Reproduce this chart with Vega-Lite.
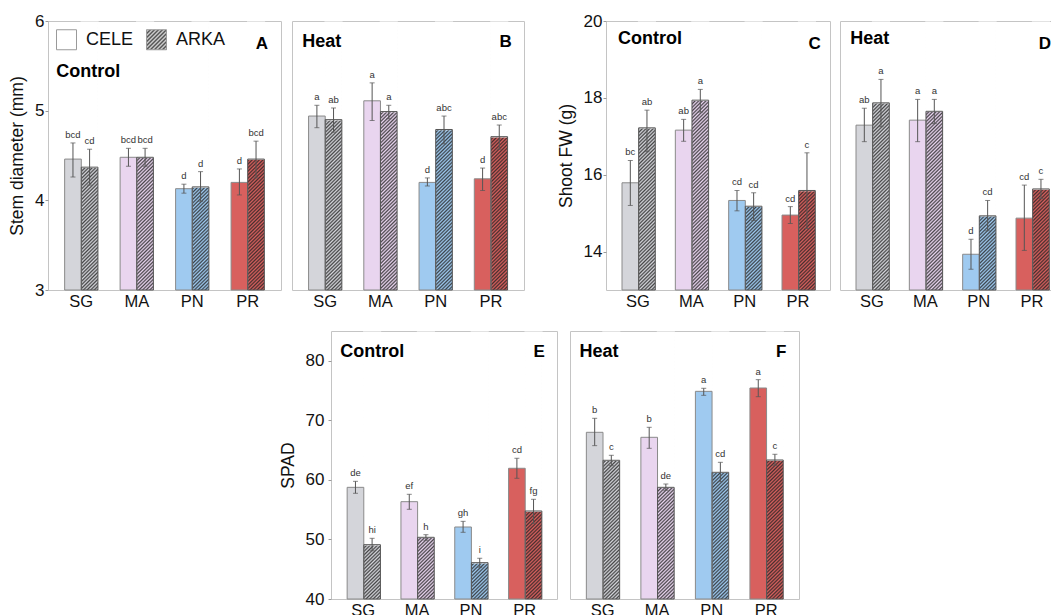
{
"$schema": "https://vega.github.io/schema/vega-lite/v6.json",
"padding": {"left": 8, "top": 11, "right": 0, "bottom": 0},
"params": [{"name": "hatch", "value": {"gradient": "linear", "x1": 0, "y1": 0, "x2": 0.065, "y2": 1.057, "stops": [
{"offset":0,"color":"#222c"},{"offset":0.00625,"color":"#2220"},{"offset":0.0125,"color":"#222c"},{"offset":0.01875,"color":"#2220"},{"offset":0.025,"color":"#222c"},{"offset":0.03125,"color":"#2220"},{"offset":0.0375,"color":"#222c"},{"offset":0.04375,"color":"#2220"},{"offset":0.05,"color":"#222c"},{"offset":0.05625,"color":"#2220"},{"offset":0.0625,"color":"#222c"},{"offset":0.06875,"color":"#2220"},{"offset":0.075,"color":"#222c"},{"offset":0.08125,"color":"#2220"},{"offset":0.0875,"color":"#222c"},{"offset":0.09375,"color":"#2220"},
{"offset":0.1,"color":"#222c"},{"offset":0.10625,"color":"#2220"},{"offset":0.1125,"color":"#222c"},{"offset":0.11875,"color":"#2220"},{"offset":0.125,"color":"#222c"},{"offset":0.13125,"color":"#2220"},{"offset":0.1375,"color":"#222c"},{"offset":0.14375,"color":"#2220"},{"offset":0.15,"color":"#222c"},{"offset":0.15625,"color":"#2220"},{"offset":0.1625,"color":"#222c"},{"offset":0.16875,"color":"#2220"},{"offset":0.175,"color":"#222c"},{"offset":0.18125,"color":"#2220"},{"offset":0.1875,"color":"#222c"},{"offset":0.19375,"color":"#2220"},
{"offset":0.2,"color":"#222c"},{"offset":0.20625,"color":"#2220"},{"offset":0.2125,"color":"#222c"},{"offset":0.21875,"color":"#2220"},{"offset":0.225,"color":"#222c"},{"offset":0.23125,"color":"#2220"},{"offset":0.2375,"color":"#222c"},{"offset":0.24375,"color":"#2220"},{"offset":0.25,"color":"#222c"},{"offset":0.25625,"color":"#2220"},{"offset":0.2625,"color":"#222c"},{"offset":0.26875,"color":"#2220"},{"offset":0.275,"color":"#222c"},{"offset":0.28125,"color":"#2220"},{"offset":0.2875,"color":"#222c"},{"offset":0.29375,"color":"#2220"},
{"offset":0.3,"color":"#222c"},{"offset":0.30625,"color":"#2220"},{"offset":0.3125,"color":"#222c"},{"offset":0.31875,"color":"#2220"},{"offset":0.325,"color":"#222c"},{"offset":0.33125,"color":"#2220"},{"offset":0.3375,"color":"#222c"},{"offset":0.34375,"color":"#2220"},{"offset":0.35,"color":"#222c"},{"offset":0.35625,"color":"#2220"},{"offset":0.3625,"color":"#222c"},{"offset":0.36875,"color":"#2220"},{"offset":0.375,"color":"#222c"},{"offset":0.38125,"color":"#2220"},{"offset":0.3875,"color":"#222c"},{"offset":0.39375,"color":"#2220"},
{"offset":0.4,"color":"#222c"},{"offset":0.40625,"color":"#2220"},{"offset":0.4125,"color":"#222c"},{"offset":0.41875,"color":"#2220"},{"offset":0.425,"color":"#222c"},{"offset":0.43125,"color":"#2220"},{"offset":0.4375,"color":"#222c"},{"offset":0.44375,"color":"#2220"},{"offset":0.45,"color":"#222c"},{"offset":0.45625,"color":"#2220"},{"offset":0.4625,"color":"#222c"},{"offset":0.46875,"color":"#2220"},{"offset":0.475,"color":"#222c"},{"offset":0.48125,"color":"#2220"},{"offset":0.4875,"color":"#222c"},{"offset":0.49375,"color":"#2220"},
{"offset":0.5,"color":"#222c"},{"offset":0.50625,"color":"#2220"},{"offset":0.5125,"color":"#222c"},{"offset":0.51875,"color":"#2220"},{"offset":0.525,"color":"#222c"},{"offset":0.53125,"color":"#2220"},{"offset":0.5375,"color":"#222c"},{"offset":0.54375,"color":"#2220"},{"offset":0.55,"color":"#222c"},{"offset":0.55625,"color":"#2220"},{"offset":0.5625,"color":"#222c"},{"offset":0.56875,"color":"#2220"},{"offset":0.575,"color":"#222c"},{"offset":0.58125,"color":"#2220"},{"offset":0.5875,"color":"#222c"},{"offset":0.59375,"color":"#2220"},
{"offset":0.6,"color":"#222c"},{"offset":0.60625,"color":"#2220"},{"offset":0.6125,"color":"#222c"},{"offset":0.61875,"color":"#2220"},{"offset":0.625,"color":"#222c"},{"offset":0.63125,"color":"#2220"},{"offset":0.6375,"color":"#222c"},{"offset":0.64375,"color":"#2220"},{"offset":0.65,"color":"#222c"},{"offset":0.65625,"color":"#2220"},{"offset":0.6625,"color":"#222c"},{"offset":0.66875,"color":"#2220"},{"offset":0.675,"color":"#222c"},{"offset":0.68125,"color":"#2220"},{"offset":0.6875,"color":"#222c"},{"offset":0.69375,"color":"#2220"},
{"offset":0.7,"color":"#222c"},{"offset":0.70625,"color":"#2220"},{"offset":0.7125,"color":"#222c"},{"offset":0.71875,"color":"#2220"},{"offset":0.725,"color":"#222c"},{"offset":0.73125,"color":"#2220"},{"offset":0.7375,"color":"#222c"},{"offset":0.74375,"color":"#2220"},{"offset":0.75,"color":"#222c"},{"offset":0.75625,"color":"#2220"},{"offset":0.7625,"color":"#222c"},{"offset":0.76875,"color":"#2220"},{"offset":0.775,"color":"#222c"},{"offset":0.78125,"color":"#2220"},{"offset":0.7875,"color":"#222c"},{"offset":0.79375,"color":"#2220"},
{"offset":0.8,"color":"#222c"},{"offset":0.80625,"color":"#2220"},{"offset":0.8125,"color":"#222c"},{"offset":0.81875,"color":"#2220"},{"offset":0.825,"color":"#222c"},{"offset":0.83125,"color":"#2220"},{"offset":0.8375,"color":"#222c"},{"offset":0.84375,"color":"#2220"},{"offset":0.85,"color":"#222c"},{"offset":0.85625,"color":"#2220"},{"offset":0.8625,"color":"#222c"},{"offset":0.86875,"color":"#2220"},{"offset":0.875,"color":"#222c"},{"offset":0.88125,"color":"#2220"},{"offset":0.8875,"color":"#222c"},{"offset":0.89375,"color":"#2220"},
{"offset":0.9,"color":"#222c"},{"offset":0.90625,"color":"#2220"},{"offset":0.9125,"color":"#222c"},{"offset":0.91875,"color":"#2220"},{"offset":0.925,"color":"#222c"},{"offset":0.93125,"color":"#2220"},{"offset":0.9375,"color":"#222c"},{"offset":0.94375,"color":"#2220"},{"offset":0.95,"color":"#222c"},{"offset":0.95625,"color":"#2220"},{"offset":0.9625,"color":"#222c"},{"offset":0.96875,"color":"#2220"},{"offset":0.975,"color":"#222c"},{"offset":0.98125,"color":"#2220"},{"offset":0.9875,"color":"#222c"},{"offset":0.99375,"color":"#2220"},
{"offset":1,"color":"#222c"}]}},
{"name": "hatchSq", "value": {"gradient": "linear", "x1": 0, "y1": 0, "x2": 1, "y2": 1, "stops": [
{"offset":0,"color":"#444"},{"offset":0.05,"color":"#ddd"},{"offset":0.1,"color":"#444"},{"offset":0.15,"color":"#ddd"},{"offset":0.2,"color":"#444"},{"offset":0.25,"color":"#ddd"},{"offset":0.3,"color":"#444"},{"offset":0.35,"color":"#ddd"},{"offset":0.4,"color":"#444"},{"offset":0.45,"color":"#ddd"},{"offset":0.5,"color":"#444"},{"offset":0.55,"color":"#ddd"},{"offset":0.6,"color":"#444"},{"offset":0.65,"color":"#ddd"},{"offset":0.7,"color":"#444"},{"offset":0.75,"color":"#ddd"},{"offset":0.8,"color":"#444"},{"offset":0.85,"color":"#ddd"},{"offset":0.9,"color":"#444"},{"offset":0.95,"color":"#ddd"},{"offset":1,"color":"#444"}]}}],
"datasets": {
"stem": [
{"t":"Control","g":"SG","c":"CELE","m":4.46,"lo":4.26,"hi":4.64,"l":"bcd"},
{"t":"Control","g":"SG","c":"ARKA","m":4.37,"lo":4.17,"hi":4.57,"l":"cd"},
{"t":"Control","g":"MA","c":"CELE","m":4.48,"lo":4.38,"hi":4.58,"l":"bcd"},
{"t":"Control","g":"MA","c":"ARKA","m":4.48,"lo":4.38,"hi":4.58,"l":"bcd"},
{"t":"Control","g":"PN","c":"CELE","m":4.13,"lo":4.08,"hi":4.18,"l":"d"},
{"t":"Control","g":"PN","c":"ARKA","m":4.15,"lo":3.99,"hi":4.32,"l":"d"},
{"t":"Control","g":"PR","c":"CELE","m":4.2,"lo":4.06,"hi":4.35,"l":"d"},
{"t":"Control","g":"PR","c":"ARKA","m":4.46,"lo":4.25,"hi":4.66,"l":"bcd"},
{"t":"Heat","g":"SG","c":"CELE","m":4.94,"lo":4.81,"hi":5.06,"l":"a"},
{"t":"Heat","g":"SG","c":"ARKA","m":4.9,"lo":4.76,"hi":5.03,"l":"ab"},
{"t":"Heat","g":"MA","c":"CELE","m":5.11,"lo":4.89,"hi":5.31,"l":"a"},
{"t":"Heat","g":"MA","c":"ARKA","m":4.99,"lo":4.91,"hi":5.06,"l":"a"},
{"t":"Heat","g":"PN","c":"CELE","m":4.2,"lo":4.16,"hi":4.25,"l":"d"},
{"t":"Heat","g":"PN","c":"ARKA","m":4.79,"lo":4.63,"hi":4.94,"l":"abc"},
{"t":"Heat","g":"PR","c":"CELE","m":4.24,"lo":4.11,"hi":4.36,"l":"d"},
{"t":"Heat","g":"PR","c":"ARKA","m":4.71,"lo":4.57,"hi":4.84,"l":"abc"}],
"fw": [
{"t":"Control","g":"SG","c":"CELE","m":15.79,"lo":15.2,"hi":16.37,"l":"bc"},
{"t":"Control","g":"SG","c":"ARKA","m":17.22,"lo":16.6,"hi":17.68,"l":"ab"},
{"t":"Control","g":"MA","c":"CELE","m":17.16,"lo":16.87,"hi":17.44,"l":"ab"},
{"t":"Control","g":"MA","c":"ARKA","m":17.94,"lo":17.63,"hi":18.22,"l":"a"},
{"t":"Control","g":"PN","c":"CELE","m":15.33,"lo":15.06,"hi":15.59,"l":"cd"},
{"t":"Control","g":"PN","c":"ARKA","m":15.18,"lo":14.81,"hi":15.53,"l":"cd"},
{"t":"Control","g":"PR","c":"CELE","m":14.95,"lo":14.73,"hi":15.17,"l":"cd"},
{"t":"Control","g":"PR","c":"ARKA","m":15.59,"lo":14.6,"hi":16.57,"l":"c"},
{"t":"Heat","g":"SG","c":"CELE","m":17.29,"lo":16.86,"hi":17.73,"l":"ab"},
{"t":"Heat","g":"SG","c":"ARKA","m":17.87,"lo":17.25,"hi":18.48,"l":"a"},
{"t":"Heat","g":"MA","c":"CELE","m":17.42,"lo":16.86,"hi":17.96,"l":"a"},
{"t":"Heat","g":"MA","c":"ARKA","m":17.65,"lo":17.33,"hi":17.96,"l":"a"},
{"t":"Heat","g":"PN","c":"CELE","m":13.93,"lo":13.54,"hi":14.32,"l":"d"},
{"t":"Heat","g":"PN","c":"ARKA","m":14.93,"lo":14.54,"hi":15.33,"l":"cd"},
{"t":"Heat","g":"PR","c":"CELE","m":14.87,"lo":14.03,"hi":15.73,"l":"cd"},
{"t":"Heat","g":"PR","c":"ARKA","m":15.63,"lo":15.38,"hi":15.88,"l":"c"}],
"spad": [
{"t":"Control","g":"SG","c":"CELE","m":58.75,"lo":57.75,"hi":59.76,"l":"de"},
{"t":"Control","g":"SG","c":"ARKA","m":49.12,"lo":48.1,"hi":50.19,"l":"hi"},
{"t":"Control","g":"MA","c":"CELE","m":56.34,"lo":55.06,"hi":57.58,"l":"ef"},
{"t":"Control","g":"MA","c":"ARKA","m":50.36,"lo":49.86,"hi":50.8,"l":"h"},
{"t":"Control","g":"PN","c":"CELE","m":52.09,"lo":51.2,"hi":53.04,"l":"gh"},
{"t":"Control","g":"PN","c":"ARKA","m":46.1,"lo":45.33,"hi":46.84,"l":"i"},
{"t":"Control","g":"PR","c":"CELE","m":61.95,"lo":60.27,"hi":63.63,"l":"cd"},
{"t":"Control","g":"PR","c":"ARKA","m":54.78,"lo":52.71,"hi":56.74,"l":"fg"},
{"t":"Heat","g":"SG","c":"CELE","m":67.99,"lo":65.75,"hi":70.34,"l":"b"},
{"t":"Heat","g":"SG","c":"ARKA","m":63.29,"lo":62.39,"hi":64.13,"l":"c"},
{"t":"Heat","g":"MA","c":"CELE","m":67.15,"lo":65.3,"hi":68.83,"l":"b"},
{"t":"Heat","g":"MA","c":"ARKA","m":58.75,"lo":58.25,"hi":59.31,"l":"de"},
{"t":"Heat","g":"PN","c":"CELE","m":74.87,"lo":74.2,"hi":75.38,"l":"a"},
{"t":"Heat","g":"PN","c":"ARKA","m":61.27,"lo":59.7,"hi":62.95,"l":"cd"},
{"t":"Heat","g":"PR","c":"CELE","m":75.43,"lo":73.97,"hi":76.83,"l":"a"},
{"t":"Heat","g":"PR","c":"ARKA","m":63.34,"lo":62.45,"hi":64.3,"l":"c"}]
},
"config": {
"font": "Liberation Sans",
"view": {"stroke": "#c4c4c4", "strokeWidth": 1},
"axis": {"grid": false, "labelColor": "#111", "titleColor": "#111", "titleFontWeight": "normal"},
"axisX": {"ticks": false, "domain": false, "labelAngle": 0, "labelFontSize": 16.5, "labelPadding": 3},
"axisY": {"domain": false, "tickSize": 3, "tickColor": "#9a9a9a", "labelFontSize": 17, "labelPadding": 1, "titleFontSize": 17.5, "titlePadding": 8}
},
"resolve": {"scale": {"fill": "independent"}, "legend": {"fill": "independent"}},
"spacing": 20,
"vconcat": [
{"resolve": {"scale": {"fill": "independent"}, "legend": {"fill": "independent"}},
 "spacing": 31,
 "hconcat": [
 {"resolve": {"scale": {"fill": "independent"}, "legend": {"fill": "independent"}},
  "spacing": 9,
  "hconcat": [
  {"width": 233, "height": 269, "data": {"name": "stem"},
   "transform": [{"filter": "datum.t == 'Control'"}],
   "encoding": {"x": {"field": "g", "type": "nominal", "sort": ["SG","MA","PN","PR"], "title": null, "scale": {"paddingInner": 0.4, "paddingOuter": 0.3}},
     "xOffset": {"field": "c", "type": "nominal", "sort": ["CELE","ARKA"], "scale": {"paddingInner": 0, "paddingOuter": 0}}},
   "layer": [
    {"transform": [{"filter": "datum.c == 'ARKA'"}], "mark": {"type": "bar", "stroke": null},
     "encoding": {"y": {"field": "m", "type": "quantitative", "scale": {"domain": [3,6], "nice": false, "zero": false}, "axis": {"values": [3,4,5,6], "format": "d"}, "title": "Stem diameter (mm)"}, "y2": {"datum": 3},
       "color": {"field": "g", "type": "nominal", "scale": {"domain": ["SG","MA","PN","PR"], "range": ["#d4d5da","#e9d5ef","#9fcaf0","#d8605e"]}, "legend": null}}},
    {"transform": [{"filter": "datum.c == 'ARKA'"}], "mark": {"type": "bar", "fill": {"expr": "hatch"}, "stroke": null}, "encoding": {"y": {"datum": 5.985}, "y2": {"datum": 3}}},
    {"transform": [{"filter": "datum.c == 'ARKA'"}], "mark": {"type": "bar", "fill": "#ffffff", "stroke": "#ffffff", "strokeWidth": 1.5}, "encoding": {"y": {"field": "m", "type": "quantitative"}, "y2": {"datum": 5.985}}},
    {"transform": [{"filter": "datum.c == 'CELE'"}], "mark": {"type": "bar", "stroke": "#8a8a8a", "strokeWidth": 1}, "encoding": {"y": {"field": "m", "type": "quantitative"}, "y2": {"datum": 3}, "color": {"field": "g", "type": "nominal", "legend": null}}},
    {"transform": [{"filter": "datum.c == 'ARKA'"}], "mark": {"type": "bar", "filled": false, "stroke": "#555555", "strokeWidth": 1}, "encoding": {"y": {"field": "m", "type": "quantitative"}, "y2": {"datum": 3}}},
    {"mark": {"type": "rule", "color": "#555555"}, "encoding": {"y": {"field": "lo", "type": "quantitative"}, "y2": {"field": "hi"}}},
    {"mark": {"type": "tick", "color": "#555555", "size": 5, "thickness": 1}, "encoding": {"y": {"field": "lo", "type": "quantitative"}}},
    {"mark": {"type": "tick", "color": "#555555", "size": 5, "thickness": 1}, "encoding": {"y": {"field": "hi", "type": "quantitative"}}},
    {"mark": {"type": "text", "fontSize": 9.5, "color": "#333333", "baseline": "alphabetic", "dy": -5}, "encoding": {"y": {"field": "hi", "type": "quantitative"}, "text": {"field": "l"}}},
    {"data": {"values": [{}]}, "mark": {"type": "text", "text": "Control", "fontSize": 18, "fontWeight": "bold", "align": "left", "baseline": "alphabetic", "dx": -16.7, "color": "#000000"}, "encoding": {"x": {"datum": "SG"}, "xOffset": {"datum": "CELE"}, "y": {"datum": 5.376}}},
    {"data": {"values": [{}]}, "mark": {"type": "text", "text": "A", "fontSize": 17, "fontWeight": "bold", "align": "right", "baseline": "alphabetic", "dx": 12, "color": "#000000"}, "encoding": {"x": {"datum": "PR"}, "xOffset": {"datum": "ARKA"}, "y": {"datum": 5.684}}},
    {"transform": [{"filter": "false"}], "mark": {"type": "square", "stroke": "#9a9a9a", "strokeWidth": 1, "opacity": 1},
     "encoding": {"y": {"field": "m", "type": "quantitative"},
       "fill": {"field": "c", "type": "nominal", "scale": {"domain": ["CELE","ARKA"], "range": ["#ffffff", {"expr": "hatchSq"}]},
       "legend": {"title": null, "orient": "top-left", "direction": "horizontal", "offset": 8, "padding": 0, "symbolType": "square", "symbolSize": 400, "symbolStrokeColor": "#9a9a9a", "symbolStrokeWidth": 1, "labelFontSize": 18, "labelColor": "#111111", "labelOffset": 9, "columnPadding": 10}}}}
   ]},
  {"width": 232, "height": 269, "data": {"name": "stem"},
   "transform": [{"filter": "datum.t == 'Heat'"}],
   "encoding": {"x": {"field": "g", "type": "nominal", "sort": ["SG","MA","PN","PR"], "title": null, "scale": {"paddingInner": 0.4, "paddingOuter": 0.3}},
     "xOffset": {"field": "c", "type": "nominal", "sort": ["CELE","ARKA"], "scale": {"paddingInner": 0, "paddingOuter": 0}}},
   "layer": [
    {"transform": [{"filter": "datum.c == 'ARKA'"}], "mark": {"type": "bar", "stroke": null},
     "encoding": {"y": {"field": "m", "type": "quantitative", "scale": {"domain": [3,6], "nice": false, "zero": false}, "axis": null}, "y2": {"datum": 3},
       "color": {"field": "g", "type": "nominal", "scale": {"domain": ["SG","MA","PN","PR"], "range": ["#d4d5da","#e9d5ef","#9fcaf0","#d8605e"]}, "legend": null}}},
    {"transform": [{"filter": "datum.c == 'ARKA'"}], "mark": {"type": "bar", "fill": {"expr": "hatch"}, "stroke": null}, "encoding": {"y": {"datum": 5.985, "axis": null}, "y2": {"datum": 3}}},
    {"transform": [{"filter": "datum.c == 'ARKA'"}], "mark": {"type": "bar", "fill": "#ffffff", "stroke": "#ffffff", "strokeWidth": 1.5}, "encoding": {"y": {"field": "m", "type": "quantitative", "axis": null}, "y2": {"datum": 5.985}}},
    {"transform": [{"filter": "datum.c == 'CELE'"}], "mark": {"type": "bar", "stroke": "#8a8a8a", "strokeWidth": 1}, "encoding": {"y": {"field": "m", "type": "quantitative", "axis": null}, "y2": {"datum": 3}, "color": {"field": "g", "type": "nominal", "legend": null}}},
    {"transform": [{"filter": "datum.c == 'ARKA'"}], "mark": {"type": "bar", "filled": false, "stroke": "#555555", "strokeWidth": 1}, "encoding": {"y": {"field": "m", "type": "quantitative", "axis": null}, "y2": {"datum": 3}}},
    {"mark": {"type": "rule", "color": "#555555"}, "encoding": {"y": {"field": "lo", "type": "quantitative", "axis": null}, "y2": {"field": "hi"}}},
    {"mark": {"type": "tick", "color": "#555555", "size": 5, "thickness": 1}, "encoding": {"y": {"field": "lo", "type": "quantitative", "axis": null}}},
    {"mark": {"type": "tick", "color": "#555555", "size": 5, "thickness": 1}, "encoding": {"y": {"field": "hi", "type": "quantitative", "axis": null}}},
    {"mark": {"type": "text", "fontSize": 9.5, "color": "#333333", "baseline": "alphabetic", "dy": -5}, "encoding": {"y": {"field": "hi", "type": "quantitative", "axis": null}, "text": {"field": "l"}}},
    {"data": {"values": [{}]}, "mark": {"type": "text", "text": "Heat", "fontSize": 18, "fontWeight": "bold", "align": "left", "baseline": "alphabetic", "dx": -14.6, "color": "#000000"}, "encoding": {"x": {"datum": "SG"}, "xOffset": {"datum": "CELE"}, "y": {"datum": 5.713, "axis": null}}},
    {"data": {"values": [{}]}, "mark": {"type": "text", "text": "B", "fontSize": 17, "fontWeight": "bold", "align": "right", "baseline": "alphabetic", "dx": 12.6, "color": "#000000"}, "encoding": {"x": {"datum": "PR"}, "xOffset": {"datum": "ARKA"}, "y": {"datum": 5.713, "axis": null}}}
   ]}
  ]},
 {"spacing": 8,
  "hconcat": [
  {"width": 224, "height": 269, "data": {"name": "fw"},
   "transform": [{"filter": "datum.t == 'Control'"}],
   "encoding": {"x": {"field": "g", "type": "nominal", "sort": ["SG","MA","PN","PR"], "title": null, "scale": {"paddingInner": 0.4, "paddingOuter": 0.3}},
     "xOffset": {"field": "c", "type": "nominal", "sort": ["CELE","ARKA"], "scale": {"paddingInner": 0, "paddingOuter": 0}}},
   "layer": [
    {"transform": [{"filter": "datum.c == 'ARKA'"}], "mark": {"type": "bar", "stroke": null},
     "encoding": {"y": {"field": "m", "type": "quantitative", "scale": {"domain": [13,20], "nice": false, "zero": false}, "axis": {"values": [14,16,18,20]}, "title": "Shoot FW (g)"}, "y2": {"datum": 13},
       "color": {"field": "g", "type": "nominal", "scale": {"domain": ["SG","MA","PN","PR"], "range": ["#d4d5da","#e9d5ef","#9fcaf0","#d8605e"]}, "legend": null}}},
    {"transform": [{"filter": "datum.c == 'ARKA'"}], "mark": {"type": "bar", "fill": {"expr": "hatch"}, "stroke": null}, "encoding": {"y": {"datum": 19.965}, "y2": {"datum": 13}}},
    {"transform": [{"filter": "datum.c == 'ARKA'"}], "mark": {"type": "bar", "fill": "#ffffff", "stroke": "#ffffff", "strokeWidth": 1.5}, "encoding": {"y": {"field": "m", "type": "quantitative"}, "y2": {"datum": 19.965}}},
    {"transform": [{"filter": "datum.c == 'CELE'"}], "mark": {"type": "bar", "stroke": "#8a8a8a", "strokeWidth": 1}, "encoding": {"y": {"field": "m", "type": "quantitative"}, "y2": {"datum": 13}, "color": {"field": "g", "type": "nominal", "legend": null}}},
    {"transform": [{"filter": "datum.c == 'ARKA'"}], "mark": {"type": "bar", "filled": false, "stroke": "#555555", "strokeWidth": 1}, "encoding": {"y": {"field": "m", "type": "quantitative"}, "y2": {"datum": 13}}},
    {"mark": {"type": "rule", "color": "#555555"}, "encoding": {"y": {"field": "lo", "type": "quantitative"}, "y2": {"field": "hi"}}},
    {"mark": {"type": "tick", "color": "#555555", "size": 5, "thickness": 1}, "encoding": {"y": {"field": "lo", "type": "quantitative"}}},
    {"mark": {"type": "tick", "color": "#555555", "size": 5, "thickness": 1}, "encoding": {"y": {"field": "hi", "type": "quantitative"}}},
    {"mark": {"type": "text", "fontSize": 9.5, "color": "#333333", "baseline": "alphabetic", "dy": -5}, "encoding": {"y": {"field": "hi", "type": "quantitative"}, "text": {"field": "l"}}},
    {"data": {"values": [{}]}, "mark": {"type": "text", "text": "Control", "fontSize": 18, "fontWeight": "bold", "align": "left", "baseline": "alphabetic", "dx": -12.3, "color": "#000000"}, "encoding": {"x": {"datum": "SG"}, "xOffset": {"datum": "CELE"}, "y": {"datum": 19.394}}},
    {"data": {"values": [{}]}, "mark": {"type": "text", "text": "C", "fontSize": 17, "fontWeight": "bold", "align": "right", "baseline": "alphabetic", "dx": 13.7, "color": "#000000"}, "encoding": {"x": {"datum": "PR"}, "xOffset": {"datum": "ARKA"}, "y": {"datum": 19.264}}}
   ]},
  {"width": 224, "height": 269, "data": {"name": "fw"},
   "transform": [{"filter": "datum.t == 'Heat'"}],
   "encoding": {"x": {"field": "g", "type": "nominal", "sort": ["SG","MA","PN","PR"], "title": null, "scale": {"paddingInner": 0.4, "paddingOuter": 0.3}},
     "xOffset": {"field": "c", "type": "nominal", "sort": ["CELE","ARKA"], "scale": {"paddingInner": 0, "paddingOuter": 0}}},
   "layer": [
    {"transform": [{"filter": "datum.c == 'ARKA'"}], "mark": {"type": "bar", "stroke": null},
     "encoding": {"y": {"field": "m", "type": "quantitative", "scale": {"domain": [13,20], "nice": false, "zero": false}, "axis": null}, "y2": {"datum": 13},
       "color": {"field": "g", "type": "nominal", "scale": {"domain": ["SG","MA","PN","PR"], "range": ["#d4d5da","#e9d5ef","#9fcaf0","#d8605e"]}, "legend": null}}},
    {"transform": [{"filter": "datum.c == 'ARKA'"}], "mark": {"type": "bar", "fill": {"expr": "hatch"}, "stroke": null}, "encoding": {"y": {"datum": 19.965, "axis": null}, "y2": {"datum": 13}}},
    {"transform": [{"filter": "datum.c == 'ARKA'"}], "mark": {"type": "bar", "fill": "#ffffff", "stroke": "#ffffff", "strokeWidth": 1.5}, "encoding": {"y": {"field": "m", "type": "quantitative", "axis": null}, "y2": {"datum": 19.965}}},
    {"transform": [{"filter": "datum.c == 'CELE'"}], "mark": {"type": "bar", "stroke": "#8a8a8a", "strokeWidth": 1}, "encoding": {"y": {"field": "m", "type": "quantitative", "axis": null}, "y2": {"datum": 13}, "color": {"field": "g", "type": "nominal", "legend": null}}},
    {"transform": [{"filter": "datum.c == 'ARKA'"}], "mark": {"type": "bar", "filled": false, "stroke": "#555555", "strokeWidth": 1}, "encoding": {"y": {"field": "m", "type": "quantitative", "axis": null}, "y2": {"datum": 13}}},
    {"mark": {"type": "rule", "color": "#555555"}, "encoding": {"y": {"field": "lo", "type": "quantitative", "axis": null}, "y2": {"field": "hi"}}},
    {"mark": {"type": "tick", "color": "#555555", "size": 5, "thickness": 1}, "encoding": {"y": {"field": "lo", "type": "quantitative", "axis": null}}},
    {"mark": {"type": "tick", "color": "#555555", "size": 5, "thickness": 1}, "encoding": {"y": {"field": "hi", "type": "quantitative", "axis": null}}},
    {"mark": {"type": "text", "fontSize": 9.5, "color": "#333333", "baseline": "alphabetic", "dy": -5}, "encoding": {"y": {"field": "hi", "type": "quantitative", "axis": null}, "text": {"field": "l"}}},
    {"data": {"values": [{}]}, "mark": {"type": "text", "text": "Heat", "fontSize": 18, "fontWeight": "bold", "align": "left", "baseline": "alphabetic", "dx": -14, "color": "#000000"}, "encoding": {"x": {"datum": "SG"}, "xOffset": {"datum": "CELE"}, "y": {"datum": 19.394, "axis": null}}},
    {"data": {"values": [{}]}, "mark": {"type": "text", "text": "D", "fontSize": 17, "fontWeight": "bold", "align": "right", "baseline": "alphabetic", "dx": 10, "color": "#000000"}, "encoding": {"x": {"datum": "PR"}, "xOffset": {"datum": "ARKA"}, "y": {"datum": 19.264, "axis": null}}}
   ]}
  ]}
 ]},
{"spacing": 0,
 "hconcat": [
  {"width": 230, "height": 10, "data": {"values": []}, "mark": "point", "view": {"stroke": null}},
  {"spacing": 11,
   "hconcat": [
   {"width": 226, "height": 268, "data": {"name": "spad"},
    "transform": [{"filter": "datum.t == 'Control'"}],
    "encoding": {"x": {"field": "g", "type": "nominal", "sort": ["SG","MA","PN","PR"], "title": null, "scale": {"paddingInner": 0.4, "paddingOuter": 0.3}},
      "xOffset": {"field": "c", "type": "nominal", "sort": ["CELE","ARKA"], "scale": {"paddingInner": 0, "paddingOuter": 0}}},
    "layer": [
     {"transform": [{"filter": "datum.c == 'ARKA'"}], "mark": {"type": "bar", "stroke": null},
      "encoding": {"y": {"field": "m", "type": "quantitative", "scale": {"domain": [40,85], "nice": false, "zero": false}, "axis": {"values": [40,50,60,70,80], "labelPadding": 4}, "title": "SPAD"}, "y2": {"datum": 40},
        "color": {"field": "g", "type": "nominal", "scale": {"domain": ["SG","MA","PN","PR"], "range": ["#d4d5da","#e9d5ef","#9fcaf0","#d8605e"]}, "legend": null}}},
     {"transform": [{"filter": "datum.c == 'ARKA'"}], "mark": {"type": "bar", "fill": {"expr": "hatch"}, "stroke": null}, "encoding": {"y": {"datum": 84.78}, "y2": {"datum": 40}}},
     {"transform": [{"filter": "datum.c == 'ARKA'"}], "mark": {"type": "bar", "fill": "#ffffff", "stroke": "#ffffff", "strokeWidth": 1.5}, "encoding": {"y": {"field": "m", "type": "quantitative"}, "y2": {"datum": 84.78}}},
     {"transform": [{"filter": "datum.c == 'CELE'"}], "mark": {"type": "bar", "stroke": "#8a8a8a", "strokeWidth": 1}, "encoding": {"y": {"field": "m", "type": "quantitative"}, "y2": {"datum": 40}, "color": {"field": "g", "type": "nominal", "legend": null}}},
     {"transform": [{"filter": "datum.c == 'ARKA'"}], "mark": {"type": "bar", "filled": false, "stroke": "#555555", "strokeWidth": 1}, "encoding": {"y": {"field": "m", "type": "quantitative"}, "y2": {"datum": 40}}},
     {"mark": {"type": "rule", "color": "#555555"}, "encoding": {"y": {"field": "lo", "type": "quantitative"}, "y2": {"field": "hi"}}},
     {"mark": {"type": "tick", "color": "#555555", "size": 5, "thickness": 1}, "encoding": {"y": {"field": "lo", "type": "quantitative"}}},
     {"mark": {"type": "tick", "color": "#555555", "size": 5, "thickness": 1}, "encoding": {"y": {"field": "hi", "type": "quantitative"}}},
     {"mark": {"type": "text", "fontSize": 9.5, "color": "#333333", "baseline": "alphabetic", "dy": -5}, "encoding": {"y": {"field": "hi", "type": "quantitative"}, "text": {"field": "l"}}},
     {"data": {"values": [{}]}, "mark": {"type": "text", "text": "Control", "fontSize": 18, "fontWeight": "bold", "align": "left", "baseline": "alphabetic", "dx": -15.2, "color": "#000000"}, "encoding": {"x": {"datum": "SG"}, "xOffset": {"datum": "CELE"}, "y": {"datum": 80.58}}},
     {"data": {"values": [{}]}, "mark": {"type": "text", "text": "E", "fontSize": 17, "fontWeight": "bold", "align": "right", "baseline": "alphabetic", "dx": 11.2, "color": "#000000"}, "encoding": {"x": {"datum": "PR"}, "xOffset": {"datum": "ARKA"}, "y": {"datum": 80.58}}}
    ]},
   {"width": 229, "height": 268, "data": {"name": "spad"},
    "transform": [{"filter": "datum.t == 'Heat'"}],
    "encoding": {"x": {"field": "g", "type": "nominal", "sort": ["SG","MA","PN","PR"], "title": null, "scale": {"paddingInner": 0.4, "paddingOuter": 0.3}},
      "xOffset": {"field": "c", "type": "nominal", "sort": ["CELE","ARKA"], "scale": {"paddingInner": 0, "paddingOuter": 0}}},
    "layer": [
     {"transform": [{"filter": "datum.c == 'ARKA'"}], "mark": {"type": "bar", "stroke": null},
      "encoding": {"y": {"field": "m", "type": "quantitative", "scale": {"domain": [40,85], "nice": false, "zero": false}, "axis": null}, "y2": {"datum": 40},
        "color": {"field": "g", "type": "nominal", "scale": {"domain": ["SG","MA","PN","PR"], "range": ["#d4d5da","#e9d5ef","#9fcaf0","#d8605e"]}, "legend": null}}},
     {"transform": [{"filter": "datum.c == 'ARKA'"}], "mark": {"type": "bar", "fill": {"expr": "hatch"}, "stroke": null}, "encoding": {"y": {"datum": 84.78, "axis": null}, "y2": {"datum": 40}}},
     {"transform": [{"filter": "datum.c == 'ARKA'"}], "mark": {"type": "bar", "fill": "#ffffff", "stroke": "#ffffff", "strokeWidth": 1.5}, "encoding": {"y": {"field": "m", "type": "quantitative", "axis": null}, "y2": {"datum": 84.78}}},
     {"transform": [{"filter": "datum.c == 'CELE'"}], "mark": {"type": "bar", "stroke": "#8a8a8a", "strokeWidth": 1}, "encoding": {"y": {"field": "m", "type": "quantitative", "axis": null}, "y2": {"datum": 40}, "color": {"field": "g", "type": "nominal", "legend": null}}},
     {"transform": [{"filter": "datum.c == 'ARKA'"}], "mark": {"type": "bar", "filled": false, "stroke": "#555555", "strokeWidth": 1}, "encoding": {"y": {"field": "m", "type": "quantitative", "axis": null}, "y2": {"datum": 40}}},
     {"mark": {"type": "rule", "color": "#555555"}, "encoding": {"y": {"field": "lo", "type": "quantitative", "axis": null}, "y2": {"field": "hi"}}},
     {"mark": {"type": "tick", "color": "#555555", "size": 5, "thickness": 1}, "encoding": {"y": {"field": "lo", "type": "quantitative", "axis": null}}},
     {"mark": {"type": "tick", "color": "#555555", "size": 5, "thickness": 1}, "encoding": {"y": {"field": "hi", "type": "quantitative", "axis": null}}},
     {"mark": {"type": "text", "fontSize": 9.5, "color": "#333333", "baseline": "alphabetic", "dy": -5}, "encoding": {"y": {"field": "hi", "type": "quantitative", "axis": null}, "text": {"field": "l"}}},
     {"data": {"values": [{}]}, "mark": {"type": "text", "text": "Heat", "fontSize": 18, "fontWeight": "bold", "align": "left", "baseline": "alphabetic", "dx": -15.2, "color": "#000000"}, "encoding": {"x": {"datum": "SG"}, "xOffset": {"datum": "CELE"}, "y": {"datum": 80.58, "axis": null}}},
     {"data": {"values": [{}]}, "mark": {"type": "text", "text": "F", "fontSize": 17, "fontWeight": "bold", "align": "right", "baseline": "alphabetic", "dx": 11.5, "color": "#000000"}, "encoding": {"x": {"datum": "PR"}, "xOffset": {"datum": "ARKA"}, "y": {"datum": 80.58, "axis": null}}}
    ]}
   ]}
 ]}
]
}
